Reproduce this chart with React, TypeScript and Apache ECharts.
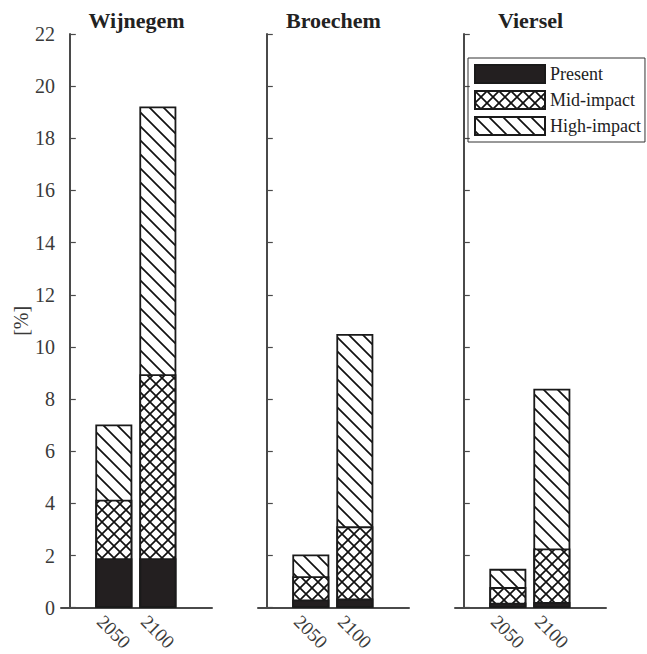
import React, { useEffect, useRef } from "react";
import * as echarts from "echarts";

const sites = ["Wijnegem", "Broechem", "Viersel"];
const years = ["2050", "2100"];
const yearPositions = [1, 2];
// segment heights [2050, 2100] per site, in %
const presentValues = [
  [1.9, 1.9],
  [0.32, 0.35],
  [0.19, 0.22],
];
const midImpactValues = [
  [2.24, 7.05],
  [0.89, 2.77],
  [0.6, 2.05],
];
const highImpactValues = [
  [2.89, 10.27],
  [0.83, 7.38],
  [0.7, 6.13],
];
const yTicks = [0, 2, 4, 6, 8, 10, 12, 14, 16, 18, 20, 22];

const FONT = "Liberation Serif, serif";

function svgUrl(svg: string) {
  return "data:image/svg+xml;charset=utf-8," + encodeURIComponent(svg);
}

const DIAG = 14;
const diagPattern = {
  image: svgUrl(
    `<svg xmlns='http://www.w3.org/2000/svg' width='${DIAG}' height='${DIAG}'><rect width='${DIAG}' height='${DIAG}' fill='white'/><path d='M-2,-2 L${DIAG + 2},${DIAG + 2} M-2,${DIAG - 2} L2,${DIAG + 2} M${DIAG - 2},-2 L${DIAG + 2},2' stroke='#111' stroke-width='1.7' fill='none'/></svg>`
  ),
  imageWidth: DIAG,
  imageHeight: DIAG,
  repeat: "repeat",
};
const CR = 12;
const crossPattern = {
  image: svgUrl(
    `<svg xmlns='http://www.w3.org/2000/svg' width='${CR}' height='${CR}'><rect width='${CR}' height='${CR}' fill='white'/><path d='M-2,-2 L${CR + 2},${CR + 2} M${CR + 2},-2 L-2,${CR + 2}' stroke='#111' stroke-width='1.7' fill='none'/></svg>`
  ),
  imageWidth: CR,
  imageHeight: CR,
  repeat: "repeat",
};

const gridLefts = [61, 258, 455];
const gridWidth = 151;

export default function App() {
  const ref = useRef<HTMLDivElement>(null);
  useEffect(() => {
    if (!ref.current) return;
    const chart = echarts.init(ref.current, null, { renderer: "svg" });
    const axisColor = "#4a4a4a";
    const grids = gridLefts.map((l) => ({ left: l, width: gridWidth, top: 34, bottom: 44 }));
    const xAxes = gridLefts.map((_, i) => ({
      type: "value",
      gridIndex: i,
      min: -0.2,
      max: 3.23,
      splitLine: { show: false },
      axisLine: { show: true, lineStyle: { color: axisColor, width: 2 } },
      axisTick: {
        show: true,
        inside: true,
        length: 6,
        customValues: yearPositions,
        lineStyle: { color: axisColor, width: 1.2 },
      },
      axisLabel: {
        show: true,
        customValues: yearPositions,
        formatter: (v: number) => years[yearPositions.indexOf(v)] ?? "",
        rotate: -45,
        align: "center",
        verticalAlign: "middle",
        margin: 24,
        fontFamily: FONT,
        fontSize: 19,
        color: "#3a3a3a",
      },
    }));
    const yAxes = gridLefts.map((_, i) => ({
      type: "value",
      gridIndex: i,
      min: 0,
      max: 22,
      interval: 2,
      name: i === 0 ? "[%]" : "",
      nameLocation: "middle",
      nameGap: 28,
      nameTextStyle: { fontFamily: FONT, fontSize: 20, color: "#3a3a3a" },
      splitLine: { show: false },
      axisLine: { show: true, lineStyle: { color: axisColor, width: 2 } },
      axisTick: { show: true, inside: true, length: 6, lineStyle: { color: axisColor, width: 1.2 } },
      axisLabel: {
        show: i === 0,
        margin: 6,
        fontFamily: FONT,
        fontSize: 20,
        color: "#3a3a3a",
        formatter: (v: number) => (yTicks.includes(v) ? String(v) : ""),
      },
    }));
    const series: any[] = [];
    sites.forEach((site, i) => {
      const midTop = presentValues[i].map((p, k) => p + midImpactValues[i][k]);
      const total = midTop.map((m, k) => m + highImpactValues[i][k]);
      const mk = (name: string, vals: number[], color: any, z: number) => ({
        type: "bar",
        name,
        xAxisIndex: i,
        yAxisIndex: i,
        barWidth: 37,
        barGap: "-100%",
        z,
        data: vals.map((v, k) => [yearPositions[k], v]),
        itemStyle: { color, borderColor: "#1a1a1a", borderWidth: 1.8 },
      });
      series.push(mk("High-impact", total, diagPattern, 2));
      series.push(mk("Mid-impact", midTop, crossPattern, 3));
      series.push(mk("Present", presentValues[i], "#231f20", 4));
    });
    chart.setOption({
      animation: false,
      backgroundColor: "#ffffff",
      grid: grids,
      xAxis: xAxes,
      yAxis: yAxes,
      series,
      legend: {
        data: ["Present", "Mid-impact", "High-impact"],
        orient: "vertical",
        left: 468,
        top: 58,
        icon: "rect",
        itemWidth: 70,
        itemHeight: 18,
        itemGap: 6,
        padding: [6, 4, 6, 6],
        borderColor: "#333",
        borderWidth: 1,
        selectedMode: false,
        textStyle: { fontFamily: FONT, fontSize: 18, lineHeight: 18, color: "#222" },
      },
      graphic: sites.map((s, i) => ({
        type: "text",
        x: gridLefts[i] + gridWidth / 2,
        y: 20,
        style: {
          text: s,
          textAlign: "center",
          textVerticalAlign: "middle",
          font: `bold 22px ${FONT}`,
          fill: "#222",
        },
      })),
    });
    return () => chart.dispose();
  }, []);
  return (
    <div
      ref={ref}
      style={{ position: "fixed", left: 0, top: 0, width: 647, height: 654, background: "#fff" }}
    />
  );
}
